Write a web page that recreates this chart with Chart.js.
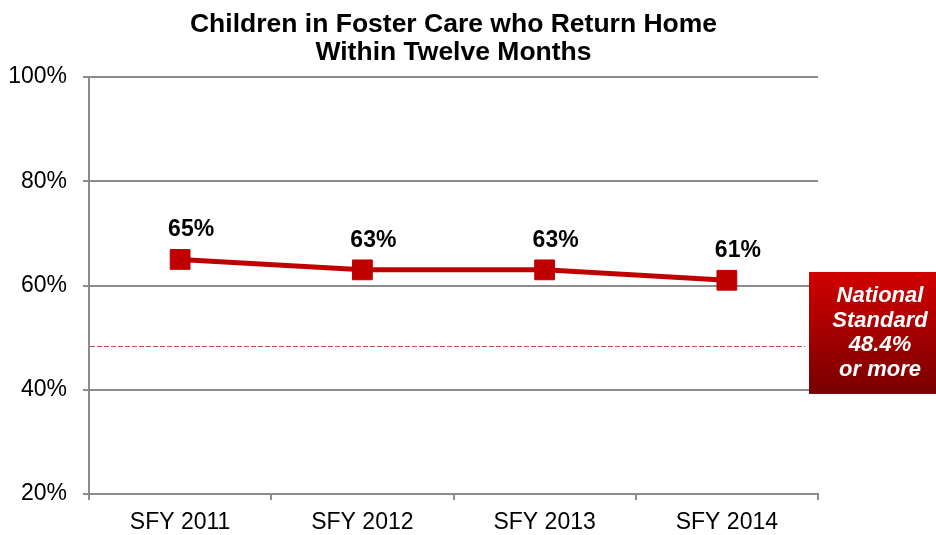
<!DOCTYPE html>
<html>
<head>
<meta charset="utf-8">
<script src="https://cdn.jsdelivr.net/npm/chart.js@4.4.1/dist/chart.umd.min.js"></script>
<style>
  html, body { margin: 0; padding: 0; background: #ffffff; }
  #wrap { position: relative; width: 936px; height: 535px; }
</style>
</head>
<body>
<div id="wrap"><canvas id="c" width="936" height="535"></canvas></div>
<script>
const titleLines = ['Children in Foster Care who Return Home', 'Within Twelve Months'];
const categories = ['SFY 2011', 'SFY 2012', 'SFY 2013', 'SFY 2014'];
const returnHomeRates = [65, 63, 63, 61];
const dataLabels = ['65%', '63%', '63%', '61%'];
const nationalStandard = 48.4;
const standardBoxLines = ['National', 'Standard', '48.4%', 'or more'];
const yTicks = [20, 40, 60, 80, 100];

const FONT = '"Liberation Sans", Arial, sans-serif';
const RED = '#c00000';
const GRID = '#8c8c8c';

const overlayPlugin = {
  id: 'overlay',
  beforeDatasetsDraw(chart) {
    const ctx = chart.ctx;
    const area = chart.chartArea;
    const y = chart.scales.y.getPixelForValue(nationalStandard);
    ctx.save();
    ctx.strokeStyle = '#c0504d';
    ctx.lineWidth = 1.2;
    ctx.setLineDash([5, 2]);
    ctx.beginPath();
    ctx.moveTo(area.left + 1, Math.round(y) + 0.5);
    ctx.lineTo(area.right - 13, Math.round(y) + 0.5);
    ctx.stroke();
    ctx.restore();
  },
  afterDraw(chart) {
    const ctx = chart.ctx;
    const area = chart.chartArea;
    const meta = chart.getDatasetMeta(0);
    ctx.save();
    // title
    const cx = (area.left + area.right) / 2;
    ctx.fillStyle = '#000';
    ctx.font = 'bold 26.5px ' + FONT;
    ctx.textAlign = 'center';
    ctx.textBaseline = 'alphabetic';
    ctx.fillText(titleLines[0], cx, 32);
    ctx.fillText(titleLines[1], cx, 60);
    // data labels
    ctx.font = 'bold 23px ' + FONT;
    ctx.textBaseline = 'middle';
    meta.data.forEach((pt, i) => {
      ctx.fillText(dataLabels[i], pt.x + 11, pt.y - 29.5);
    });
    // national standard box
    const bx = area.right - 9;
    const by = chart.scales.y.getPixelForValue(62.6);
    const bw = chart.width - bx;
    const bh = chart.scales.y.getPixelForValue(39.2) - by;
    const g = ctx.createLinearGradient(0, by, 0, by + bh);
    g.addColorStop(0, '#d20000');
    g.addColorStop(1, '#780000');
    ctx.fillStyle = g;
    ctx.fillRect(bx, by, bw, bh);
    ctx.fillStyle = '#ffffff';
    ctx.font = 'italic bold 22px ' + FONT;
    ctx.textAlign = 'center';
    ctx.textBaseline = 'middle';
    const tx = bx + 71;
    standardBoxLines.forEach((t, i) => {
      ctx.fillText(t, tx, by + 24 + i * 24.5);
    });
    ctx.restore();
  }
};

new Chart(document.getElementById('c'), {
  type: 'line',
  data: {
    labels: categories,
    datasets: [{
      data: returnHomeRates,
      borderColor: RED,
      backgroundColor: RED,
      borderWidth: 5,
      pointStyle: 'rect',
      pointRadius: 14,
      pointBorderWidth: 1,
      pointBorderColor: RED,
      pointBackgroundColor: RED,
      tension: 0,
      fill: false
    }]
  },
  options: {
    responsive: false,
    animation: false,
    devicePixelRatio: 1,
    layout: { padding: { top: 77, left: 0, right: 118, bottom: 0 } },
    plugins: {
      legend: { display: false },
      title: { display: false },
      tooltip: { enabled: false }
    },
    scales: {
      x: {
        offset: true,
        afterFit(scale) { scale.height = 41; },
        grid: {
          offset: true,
          drawOnChartArea: false,
          drawTicks: true,
          tickLength: 6,
          color: GRID,
          lineWidth: 2
        },
        border: { display: true, color: GRID, width: 2 },
        ticks: {
          color: '#000',
          font: { family: FONT, size: 23 },
          padding: 9
        }
      },
      y: {
        min: 20,
        max: 100,
        afterFit(scale) { scale.width = 89; },
        afterBuildTicks(scale) { scale.ticks = yTicks.map(v => ({ value: v })); },
        grid: {
          color: GRID,
          lineWidth: 2,
          tickLength: 6,
          drawTicks: true
        },
        border: { display: true, color: GRID, width: 2 },
        ticks: {
          color: '#000',
          font: { family: FONT, size: 23 },
          padding: 16,
          callback: v => v + '%'
        }
      }
    }
  },
  plugins: [overlayPlugin]
});
</script>
</body>
</html>
